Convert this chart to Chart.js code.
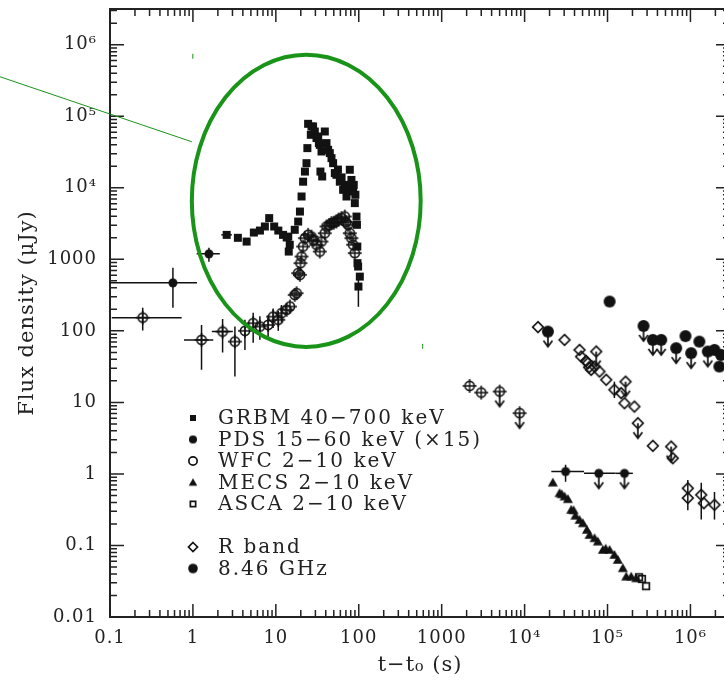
<!DOCTYPE html>
<html>
<head>
<meta charset="utf-8">
<script src="https://cdn.jsdelivr.net/npm/chart.js@4.4.0/dist/chart.umd.min.js"></script>
<style>
  html, body { margin: 0; padding: 0; background: #fff; overflow: hidden; }
  #wrap { width: 724px; height: 680px; overflow: hidden; }
</style>
</head>
<body>
<div id="wrap"><canvas id="lc" width="760" height="680"></canvas></div>
<script>
// axis ticks
var xTickValues = [0.1, 1, 10, 100, 1000, 1e4, 1e5, 1e6];
var xTickLabels = ["0.1", "1", "10", "100", "1000", "10⁴", "10⁵", "10⁶"];
var yTickValues = [0.01, 0.1, 1, 10, 100, 1000, 1e4, 1e5, 1e6];
var yTickLabels = ["0.01", "0.1", "1", "10", "100", "1000", "10⁴", "10⁵", "10⁶"];

// GRBM 40-700 keV (first four points carry error bars)
var grbmT = [2.55, 3.48, 4.44, 99, 5.43, 6.42, 7.37, 8.3, 9.54, 10.7, 12.2, 13.5, 14.1, 14.7, 14.3,
  16.9, 18.6, 19.5, 20.4, 21.3, 22.4, 23.4, 24.0, 24.5, 26.4, 26.9, 28.1, 29.5, 30.9, 32.4, 33.0,
  33.9, 34.5, 35.5, 36.2, 38.9, 40.8, 42.7, 44.7, 46.9, 49.0, 51.4, 53.8, 56, 59.0, 62, 64.7, 68,
  71.1, 74, 77.9, 80, 81.6, 85.4, 87, 89.5, 91, 93.8, 95, 96, 96.5, 98.2, 102.8];
var grbmF = [2200, 2000, 1775, 417, 2370, 2530, 2880, 3770, 2880, 2530, 2200, 2020, 2080, 1600, 1285,
  2590, 3380, 4660, 7560, 12200, 16900, 22100, 35900, 78500, 55100, 72000, 72000, 61300, 49600, 52200, 42200,
  39900, 16900, 32200, 14400, 61300, 42200, 34000, 30600, 26000, 22100, 16100, 15200, 18000, 12200, 14000, 9380, 11000,
  7560, 10000, 17900, 9500, 12900, 8880, 11000, 6110, 8000, 3970, 3040, 1510, 885, 793, 574];
var grbmTLo = [2.2, 3.2, 4.1, null];
var grbmTHi = [2.95, 3.8, 4.8, null];
var grbmFLo = [null, null, null, 217];
var grbmFHi = [null, null, null, 600];

// PDS 15-60 keV (x15)
var pdsT = [0.574, 1.56, 3.12e4, 7.85e4, 1.6e5];
var pdsF = [469, 1194, 1.08, 1.02, 1.02];
var pdsUL = [false, false, false, true, true];
var pdsTLo = [0.1, 1.11, 2.1e4, 5.2e4, 1.25e5];
var pdsTHi = [1.12, 2.11, 5.2e4, 1.25e5, 2.02e5];
var pdsFLo = [210, 923, 0.78, null, null];
var pdsFHi = [760, 1450, 1.34, null, null];

// WFC 2-10 keV
var wfcT = [0.248, 1.27, 2.28, 3.21, 4.24, 5.33, 6.42, 8.07, 9.27, 10.7, 11.7,
  13.5, 14.8, 16.9, 17.8, 18.6, 19.5, 19.8, 20.4, 21.3, 22.4, 24.5, 26.9, 28.5, 30.9, 33.9, 35.5,
  38.9, 40.8, 44, 46.9, 50, 53.8, 57, 61.9, 67.8, 70, 74.3, 77.9, 81.6, 85.4, 89.5,
  2170, 3000, 5000, 8710];
var wfcF = [153, 74.8, 97.7, 70.8, 100, 128, 115, 121, 158, 143, 177,
  197, 219, 318, 336, 641, 607, 885, 1094, 1510, 1977, 2200, 2080, 1850, 1600, 1285, 1775,
  2320, 2880, 3000, 3210, 3250, 3380, 3600, 3770, 3970, 3300, 3040, 2320, 1977, 1600, 1222,
  17.0, 13.7, 14.2, 7.07];
var wfcUL = wfcT.map(function (t) { return t === 5000 || t === 8710; });
var wfcTLo = [0.105, 0.78, 1.69];
var wfcTHi = [0.731, 1.76, 3.03];
var wfcFLo = [101, 28.5, 49.8, 23, 54, 68, 75, 80, 110, 100, 130];
var wfcFHi = [210, 121, 146, 115, 143, 179, 160, 165, 205, 190, 230];

// MECS 2-10 keV
var mecsT = [2.19e4, 2.64e4, 2.8e4, 3.03e4, 3.33e4, 3.65e4, 3.9e4, 4.1e4, 4.6e4, 5.05e4, 5.64e4, 6.07e4,
  6.97e4, 7.65e4, 8.79e4, 9.5e4, 1.06e5, 1.21e5, 1.33e5, 1.53e5, 1.68e5, 1.93e5, 2.22e5];
var mecsF = [0.755, 0.537, 0.52, 0.482, 0.443, 0.314, 0.31, 0.26, 0.227, 0.204, 0.165, 0.14,
  0.126, 0.113, 0.0865, 0.09, 0.0865, 0.0736, 0.0627, 0.048, 0.0366, 0.0366, 0.0347];

// ASCA 2-10 keV
var ascaT = [2.4e5, 2.6e5, 2.92e5];
var ascaF = [0.036, 0.034, 0.027];

// R band
var rT = [1.45e4, 3.03e4, 4.6e4, 4.8e4, 5.5e4, 5.8e4, 6.0e4, 6.35e4, 6.97e4, 7.31e4, 8.0e4, 9.64e4,
  1.21e5, 1.46e5, 1.6e5, 1.65e5, 2.11e5, 2.32e5, 3.52e5, 5.85e5, 6.12e5, 9.3e5, 9.3e5, 1.35e6, 1.45e6, 1.95e6];
var rF = [113, 74.8, 54.2, 43.7, 38, 35.3, 31, 28.5, 31.7, 51.4, 27, 20.7,
  15.0, 13.5, 9.75, 19.5, 8.73, 5.12, 2.47, 2.41, 1.66, 0.63, 0.46, 0.51, 0.39, 0.37];
var rUL = [false, false, false, false, false, false, false, false, false, true, false, false,
  false, false, false, true, false, true, false, true, false, false, false, false, false, false];
var rFLo = [null, null, null, null, null, null, null, null, null, null, null, null,
  11.5, null, null, null, null, null, null, null, null, 0.31, null, 0.23, null, 0.23];
var rFHi = [null, null, null, null, null, null, null, null, null, null, null, null,
  19.5, null, null, null, null, null, null, null, null, 0.82, null, 0.75, null, 0.56];

// 8.46 GHz
var radT = [1.91e4, 1.06e5, 2.72e5, 3.52e5, 4.44e5, 6.73e5, 8.71e5, 1.02e6, 1.28e6, 1.62e6, 1.95e6, 2.23e6, 2.34e6];
var radF = [97.7, 257, 117, 74.8, 74.8, 57.3, 84.5, 48.8, 70.8, 51.4, 54.2, 31.7, 46.1];
var radUL = [true, false, true, true, true, true, false, true, false, true, false, false, false];

var legendNames = ["GRBM 40−700 keV", "PDS 15−60 keV (×15)", "WFC 2−10 keV", "MECS 2−10 keV",
  "ASCA 2−10 keV", "R band", "8.46 GHz"];
var legendSlots = [0, 1, 2, 3, 4, 6, 7];

// highlighted region (data coords)
var ringT = [0.97, 558];
var ringF = [59.7, 7.24e5];
var pointerT = [0.0047, 0.97];
var pointerF = [3.57e5, 4.4e4];

var ink = "#121212";
var green = "#199419";
var serif = "'DejaVu Serif', 'Liberation Serif', serif";

function makeSymbol(kind, upper, k) {
  k = k || 1;
  var w = 26, h = upper ? 46 : 26;
  var c = document.createElement("canvas");
  c.width = w; c.height = h;
  var g = c.getContext("2d");
  var x = w / 2, y = h / 2;
  g.strokeStyle = ink; g.fillStyle = ink; g.lineWidth = 1.7;
  g.beginPath();
  if (kind === "fsquare") {
    g.fillRect(x - 4 * k, y - 4 * k, 8 * k, 8 * k);
  } else if (kind === "osquare") {
    g.strokeRect(x - 3.3 * k, y - 3.3 * k, 6.6 * k, 6.6 * k);
  } else if (kind === "fcircle") {
    g.arc(x, y, 4.5 * k, 0, 2 * Math.PI); g.fill();
  } else if (kind === "bigcircle") {
    g.arc(x, y, 6 * k, 0, 2 * Math.PI); g.fill();
  } else if (kind === "ocircle" || kind === "ocross") {
    g.arc(x, y, 4.6 * k, 0, 2 * Math.PI); g.stroke();
    if (kind === "ocross") {
      g.beginPath();
      g.lineWidth = 1.4;
      g.moveTo(x - 7, y); g.lineTo(x + 7, y);
      g.moveTo(x, y - 7); g.lineTo(x, y + 7);
      g.stroke();
    }
  } else if (kind === "ftri") {
    g.moveTo(x, y - 5 * k); g.lineTo(x + 5 * k, y + 3.8 * k); g.lineTo(x - 5 * k, y + 3.8 * k);
    g.closePath(); g.fill();
  } else if (kind === "odiamond") {
    g.moveTo(x, y - 5.3 * k); g.lineTo(x + 5.3 * k, y); g.lineTo(x, y + 5.3 * k); g.lineTo(x - 5.3 * k, y);
    g.closePath(); g.stroke();
  }
  if (upper) {
    g.beginPath();
    g.lineWidth = 1.7;
    g.moveTo(x, y); g.lineTo(x, y + 15);
    g.moveTo(x - 4.5, y + 9); g.lineTo(x, y + 15); g.lineTo(x + 4.5, y + 9);
    g.stroke();
  }
  return c;
}

var legendSyms = [makeSymbol("fsquare", false, 0.75), makeSymbol("fcircle", false, 0.9), makeSymbol("ocircle", false, 0.9),
  makeSymbol("ftri", false, 0.85), makeSymbol("osquare", false, 0.8), makeSymbol("odiamond", false, 0.85),
  makeSymbol("bigcircle", false, 0.8)];

function pts(xs, ys) {
  return xs.map(function (v, i) { return { x: v, y: ys[i] }; });
}

function series(label, xs, ys, kind, ul, err) {
  var sym = makeSymbol(kind, false), symUL = makeSymbol(kind, true);
  return {
    label: label,
    data: pts(xs, ys),
    showLine: false,
    pointRadius: 5,
    pointStyle: function (c) { return ul && ul[c.dataIndex] ? symUL : sym; },
    err: err
  };
}

// slightly wider lettering, like the original plot font
var spacing = {
  id: "spacing",
  beforeDraw: function (chart) { chart.ctx.letterSpacing = "1px"; }
};

// error bars drawn through the chart scales
var errorBars = {
  id: "errorBars",
  beforeDatasetsDraw: function (chart) {
    var ctx = chart.ctx, xs = chart.scales.x, ys = chart.scales.y;
    ctx.save();
    ctx.strokeStyle = ink;
    ctx.lineWidth = 1.5;
    chart.data.datasets.forEach(function (ds) {
      var e = ds.err;
      if (!e) return;
      ds.data.forEach(function (p, i) {
        var px = xs.getPixelForValue(p.x), py = ys.getPixelForValue(p.y);
        ctx.beginPath();
        if (e.xLo && e.xLo[i] != null) {
          ctx.moveTo(xs.getPixelForValue(e.xLo[i]), py);
          ctx.lineTo(xs.getPixelForValue(e.xHi[i]), py);
        }
        if (e.yLo && e.yLo[i] != null) {
          ctx.moveTo(px, ys.getPixelForValue(e.yLo[i]));
          ctx.lineTo(px, ys.getPixelForValue(e.yHi[i]));
        }
        ctx.stroke();
      });
    });
    ctx.restore();
  }
};

// box frame with inward ticks on all four sides
var frame = {
  id: "frame",
  beforeDatasetsDraw: function (chart) {
    var a = chart.chartArea, xs = chart.scales.x, ys = chart.scales.y, ctx = chart.ctx;
    ctx.save();
    ctx.strokeStyle = "#222";
    ctx.lineWidth = 2;
    ctx.strokeRect(a.left, a.top, a.right - a.left, a.bottom - a.top);
    ctx.lineWidth = 1.5;
    ctx.beginPath();
    var e, k, v, p, len;
    for (e = -1; e <= 6; e++) {
      for (k = 1; k <= 9; k++) {
        v = k * Math.pow(10, e);
        if (v > xs.max) break;
        p = xs.getPixelForValue(v);
        len = k === 1 ? 13 : 7;
        ctx.moveTo(p, a.bottom); ctx.lineTo(p, a.bottom - len);
        ctx.moveTo(p, a.top); ctx.lineTo(p, a.top + len);
      }
    }
    for (e = -2; e <= 6; e++) {
      for (k = 1; k <= 9; k++) {
        v = k * Math.pow(10, e);
        if (v > ys.max) break;
        p = ys.getPixelForValue(v);
        len = k === 1 ? 14 : 7;
        ctx.moveTo(a.left, p); ctx.lineTo(a.left + len, p);
        ctx.moveTo(a.right, p); ctx.lineTo(a.right - len, p);
      }
    }
    ctx.stroke();
    ctx.restore();
  }
};

var keyBox = {
  id: "keyBox",
  afterDraw: function (chart) {
    var a = chart.chartArea, ctx = chart.ctx;
    ctx.save();
    ctx.font = "20px " + serif;
    ctx.letterSpacing = "2px";
    ctx.fillStyle = "#222";
    ctx.textBaseline = "middle";
    legendNames.forEach(function (name, i) {
      var y = a.top + 409 + legendSlots[i] * 21.5;
      ctx.drawImage(legendSyms[i], a.left + 83 - 13, y - 13);
      ctx.fillText(name, a.left + 108, y + 1);
    });
    ctx.restore();
  }
};

// green ring and pointer line
var highlight = {
  id: "highlight",
  afterDraw: function (chart) {
    var ctx = chart.ctx, xs = chart.scales.x, ys = chart.scales.y;
    var x0 = xs.getPixelForValue(ringT[0]), x1 = xs.getPixelForValue(ringT[1]);
    var y0 = ys.getPixelForValue(ringF[1]), y1 = ys.getPixelForValue(ringF[0]);
    ctx.save();
    ctx.strokeStyle = green;
    ctx.lineWidth = 4;
    ctx.beginPath();
    ctx.ellipse((x0 + x1) / 2, (y0 + y1) / 2, (x1 - x0) / 2, (y1 - y0) / 2, 0, 0, 2 * Math.PI);
    ctx.stroke();
    ctx.lineWidth = 1;
    ctx.beginPath();
    ctx.moveTo(xs.getPixelForValue(pointerT[0]), ys.getPixelForValue(pointerF[0]));
    ctx.lineTo(xs.getPixelForValue(pointerT[1]), ys.getPixelForValue(pointerF[1]));
    ctx.moveTo(x0 + 1, y0 - 1); ctx.lineTo(x0 + 1, y0 + 4);
    ctx.moveTo(x1 + 2, y1 - 3); ctx.lineTo(x1 + 2, y1 + 2);
    ctx.stroke();
    ctx.restore();
  }
};

var tickFont = { family: serif, size: 18 };
var titleFont = { family: serif, size: 21 };

new Chart(document.getElementById("lc"), {
  type: "scatter",
  data: {
    datasets: [
      series("GRBM 40-700 keV", grbmT, grbmF, "fsquare", null, { xLo: grbmTLo, xHi: grbmTHi, yLo: grbmFLo, yHi: grbmFHi }),
      series("PDS 15-60 keV (x15)", pdsT, pdsF, "fcircle", pdsUL, { xLo: pdsTLo, xHi: pdsTHi, yLo: pdsFLo, yHi: pdsFHi }),
      series("WFC 2-10 keV", wfcT, wfcF, "ocross", wfcUL, { xLo: wfcTLo, xHi: wfcTHi, yLo: wfcFLo, yHi: wfcFHi }),
      series("MECS 2-10 keV", mecsT, mecsF, "ftri", null, null),
      series("ASCA 2-10 keV", ascaT, ascaF, "osquare", null, null),
      series("R band", rT, rF, "odiamond", rUL, { yLo: rFLo, yHi: rFHi }),
      series("8.46 GHz", radT, radF, "bigcircle", radUL, null)
    ]
  },
  options: {
    responsive: false,
    animation: false,
    events: [],
    layout: { padding: { top: 9, right: 30, left: 0, bottom: 0 } },
    plugins: { legend: { display: false }, tooltip: { enabled: false } },
    scales: {
      x: {
        type: "logarithmic",
        position: "bottom",
        min: 0.1,
        max: 3e6,
        grid: { display: false, drawTicks: false },
        border: { display: false },
        ticks: {
          autoSkip: false, maxRotation: 0, padding: 11, color: "#222", font: tickFont,
          callback: function (v) { var i = xTickValues.indexOf(v); return i < 0 ? "" : xTickLabels[i]; }
        },
        title: { display: true, text: "t−t₀ (s)", color: "#222", font: titleFont, padding: { top: 0, bottom: 2 } },
        afterBuildTicks: function (s) { s.ticks = xTickValues.map(function (v) { return { value: v }; }); },
        afterFit: function (s) { s.height = 63; s.paddingLeft = 0; s.paddingRight = 0; }
      },
      y: {
        type: "logarithmic",
        position: "left",
        min: 0.01,
        max: 3.16e6,
        grid: { display: false, drawTicks: false },
        border: { display: false },
        ticks: {
          autoSkip: false, padding: 13, color: "#222", font: tickFont,
          callback: function (v) { var i = yTickValues.indexOf(v); return i < 0 ? "" : yTickLabels[i]; }
        },
        title: { display: true, text: "Flux density (μJy)", color: "#222", font: titleFont, padding: { top: 15, bottom: 0 } },
        afterBuildTicks: function (s) { s.ticks = yTickValues.map(function (v) { return { value: v }; }); },
        afterFit: function (s) { s.width = 110; s.paddingTop = 0; s.paddingBottom = 0; }
      }
    }
  },
  plugins: [spacing, frame, errorBars, keyBox, highlight]
});
</script>
</body>
</html>
